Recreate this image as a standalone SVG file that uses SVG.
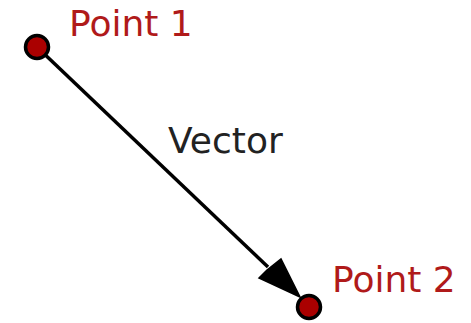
<svg xmlns="http://www.w3.org/2000/svg" width="471" height="323" viewBox="0 0 471 323">
<defs>
<style>
.pt{fill:#aa0000;stroke:#000;stroke-width:3.5}
.ptlbl{font-family:"DejaVu Sans",sans-serif;font-size:36px;fill:#b01a1a}
.lbl{font-family:"DejaVu Sans",sans-serif;font-size:36px;fill:#222}
</style>
</defs>
<rect width="471" height="323" fill="#fff"/>
<g id="connectors">
<line x1="37" y1="47" x2="268" y2="267" stroke="#000" stroke-width="3.5"/>
<polygon points="300,297 259,278 267,270 281,259" fill="#000" stroke="#000" stroke-width="1.5" stroke-linejoin="miter"/>
</g>
<g id="point1">
<circle class="pt" cx="37" cy="47" r="11.5"/>
<text class="ptlbl" x="69" y="36">Point 1</text>
</g>
<g id="point2">
<circle class="pt" cx="309" cy="307" r="11.5"/>
<text class="ptlbl" x="332" y="292">Point 2</text>
</g>
<g id="vector-label">
<text class="lbl" x="168" y="153">Vector</text>
</g>
</svg>
